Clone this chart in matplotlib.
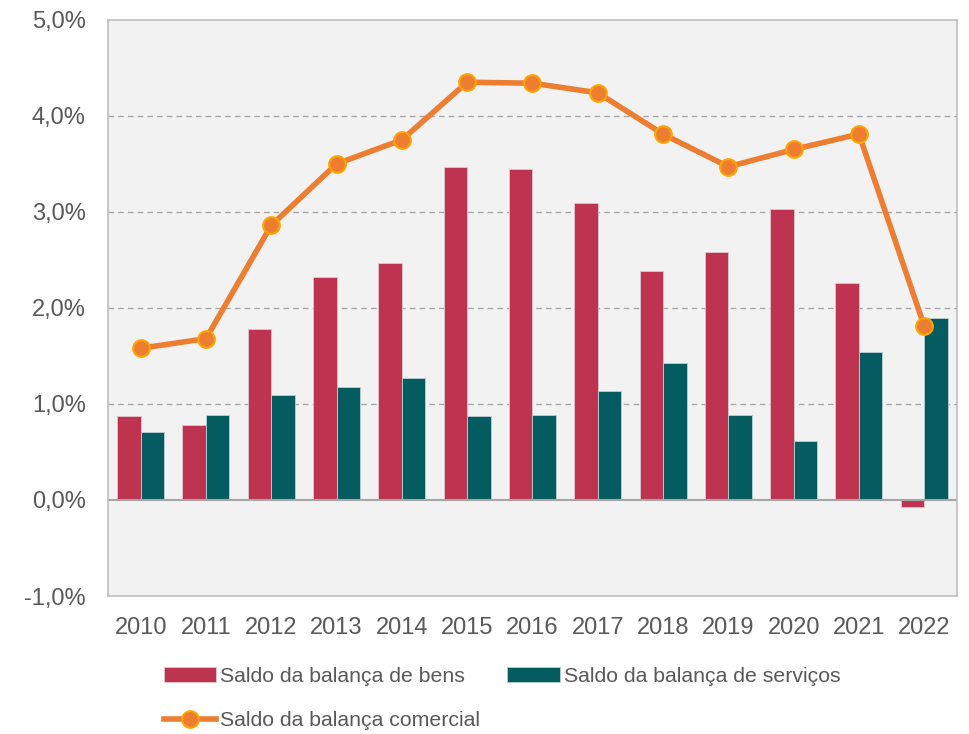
import numpy as np
import matplotlib
matplotlib.use("Agg")
import matplotlib.pyplot as plt
from matplotlib.ticker import FuncFormatter

plt.rcParams["font.family"] = ["Liberation Sans", "DejaVu Sans"]

years = ["2010", "2011", "2012", "2013", "2014", "2015", "2016",
         "2017", "2018", "2019", "2020", "2021", "2022"]
bens = [0.87, 0.78, 1.78, 2.32, 2.47, 3.47, 3.45, 3.09, 2.38, 2.58, 3.03, 2.26, -0.07]
servicos = [0.71, 0.89, 1.09, 1.18, 1.27, 0.87, 0.89, 1.14, 1.43, 0.89, 0.61, 1.54, 1.89]
comercial = [1.58, 1.68, 2.86, 3.50, 3.75, 4.35, 4.34, 4.24, 3.81, 3.47, 3.65, 3.81, 1.81]

RED = "#BE334F"
TEAL = "#055C60"
ORANGE = "#ED7D31"
GREY_TXT = "#595959"

fig = plt.figure(figsize=(9.69, 7.34), dpi=100)
ax = fig.add_axes([0.1115, 0.188, 0.876, 0.785])
ax.set_facecolor("#F2F2F2")

x = np.arange(len(years))
w = 0.36
ax.bar(x - w / 2, bens, w, color=RED, edgecolor="#E0C8CE", linewidth=0.6,
       label="Saldo da balança de bens", zorder=2)
ax.bar(x + w / 2, servicos, w, color=TEAL, edgecolor="#BCD0D1", linewidth=0.6,
       label="Saldo da balança de serviços", zorder=2)
ax.plot(x, comercial, color=ORANGE, lw=4, marker="o", ms=12,
        markerfacecolor=ORANGE, markeredgecolor="#FFA500", markeredgewidth=1.5,
        label="Saldo da balança comercial", zorder=3)

ax.set_xlim(-0.5, len(years) - 0.5)
ax.set_ylim(-1.0, 5.0)
ax.set_yticks(np.arange(-1, 5.1, 1))
ax.yaxis.set_major_formatter(FuncFormatter(lambda v, p: f"{v:.1f}%".replace(".", ",")))
ax.set_xticks(x)
ax.set_xticklabels(years)
ax.tick_params(length=0, labelsize=17, colors=GREY_TXT)
ax.tick_params(axis="x", pad=15)
ax.tick_params(axis="y", pad=16)

for yv in [1, 2, 3, 4]:
    ax.axhline(yv, color="#A6A6A6", lw=1, ls=(0, (4, 3)), zorder=1)
ax.axhline(0, color="#A6A6A6", lw=1.5, zorder=2.5)

for s in ax.spines.values():
    s.set_color("#BFBFBF")
    s.set_linewidth(1.2)

h, l = ax.get_legend_handles_labels()
# order so that the two bars share the first row, the line goes below
order = [1, 0, 2]
fig.legend([h[i] for i in order], [l[i] for i in order],
           loc="upper left", bbox_to_anchor=(0.149, 0.118), ncol=2,
           frameon=False, fontsize=15.3, labelcolor=GREY_TXT,
           handlelength=2.45, handletextpad=0.2, columnspacing=1.3,
           labelspacing=1.2)

fig.savefig("out.png", dpi=100, facecolor="white")
